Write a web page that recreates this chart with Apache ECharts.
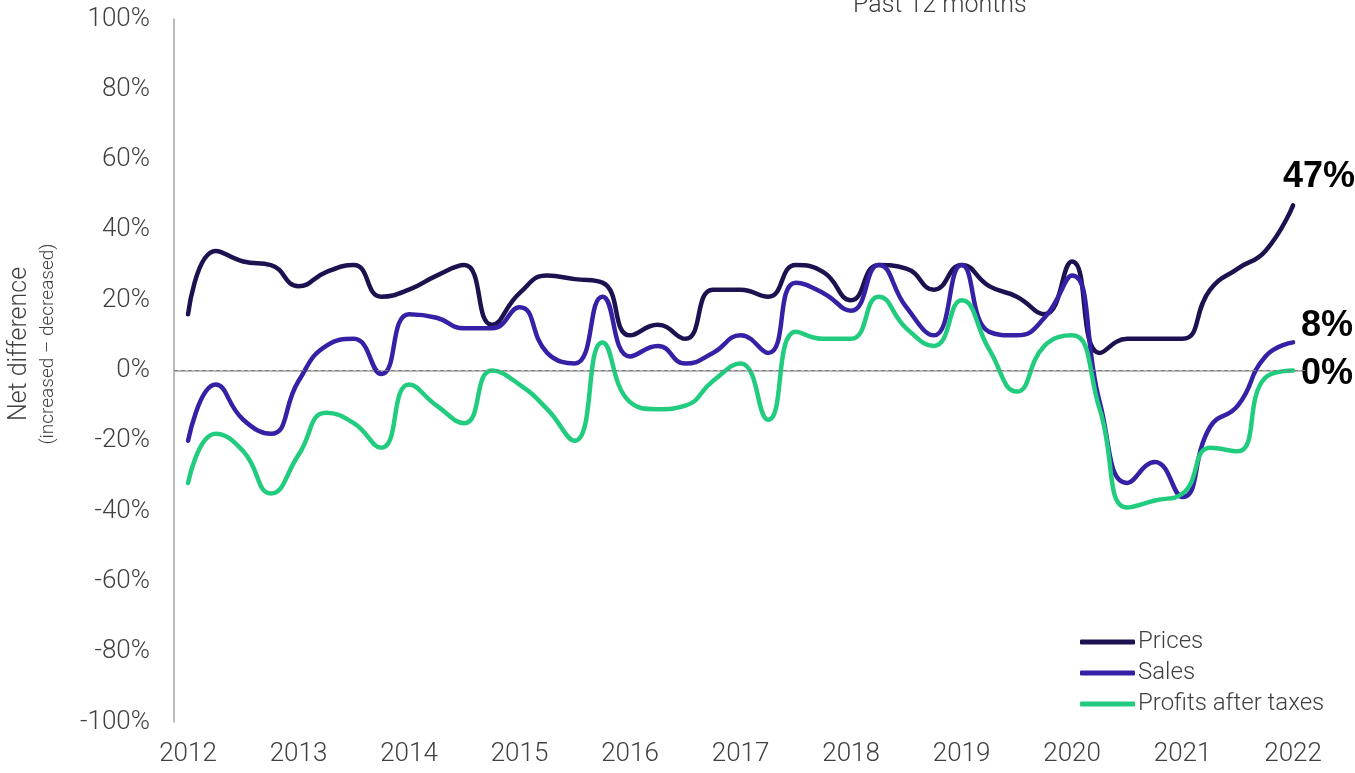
<!DOCTYPE html>
<html>
<head>
<meta charset="utf-8">
<title>Past 12 months</title>
<script src="https://cdn.jsdelivr.net/npm/echarts@6/dist/echarts.min.js"></script>
<style>
  html, body {
    margin: 0;
    padding: 0;
    background: #ffffff;
  }
  #chart {
    width: 1355px;
    height: 773px;
  }
</style>
</head>
<body>
<div id="chart"></div>
<script>
// quarterly survey, 2012 Q1 .. 2022 Q1
const quarters = [
  '2012Q1', '2012Q2', '2012Q3', '2012Q4', '2013Q1', '2013Q2', '2013Q3', '2013Q4',
  '2014Q1', '2014Q2', '2014Q3', '2014Q4', '2015Q1', '2015Q2', '2015Q3', '2015Q4',
  '2016Q1', '2016Q2', '2016Q3', '2016Q4', '2017Q1', '2017Q2', '2017Q3', '2017Q4',
  '2018Q1', '2018Q2', '2018Q3', '2018Q4', '2019Q1', '2019Q2', '2019Q3', '2019Q4',
  '2020Q1', '2020Q2', '2020Q3', '2020Q4', '2021Q1', '2021Q2', '2021Q3', '2021Q4',
  '2022Q1'
]
const prices = [
  16, 34, 31, 30, 24, 28, 30, 21, 23, 27, 30, 13, 22, 27, 26, 25,
  10, 13, 9, 23, 23, 21, 30, 28, 20, 30, 29, 23, 30, 24, 21, 16,
  31, 5, 9, 9, 9, 23, 29, 34, 47
]
const sales = [
  -20, -4, -14, -18, -3, 7, 9, -1, 16, 15, 12, 12, 18, 5, 2, 21,
  4, 7, 2, 5, 10, 5, 25, 22, 17, 30, 18, 10, 30, 11, 10, 15,
  27, -9, -32, -26, -36, -16, -10, 4, 8
]
const profits = [
  -32, -18, -23, -35, -24, -12, -15, -22, -4, -10, -15, 0, -4, -11, -20, 8,
  -9, -11, -10, -3, 2, -14, 11, 9, 9, 21, 12, 7, 20, 6, -6, 7,
  10, -11, -39, -37, -35, -22, -23, -2, 0
]
const yearTicks = [2012, 2013, 2014, 2015, 2016, 2017, 2018, 2019, 2020, 2021, 2022]

const colors = ['#1e1150', '#3521a5', '#22cc7f']
const textColor = '#404040'
const font = 'Roboto'

function toPoints (values) {
  return values.map((v, i) => {
    let q = quarters[i]
    let x = parseInt(q.slice(0, 4)) + (parseInt(q.slice(5)) - 1) / 4
    return [x, v]
  })
}

function makeSeries (name, values, color, offset) {
  return {
    name: name,
    type: 'line',
    data: toPoints(values),
    smooth: 0.5,
    showSymbol: false,
    symbol: 'none',
    lineStyle: { color: color, width: 4.5, cap: 'round', join: 'round' },
    itemStyle: { color: color },
    endLabel: {
      show: true,
      formatter: p => Math.round(p.value[1]) + '%',
      fontFamily: 'Liberation Sans',
      fontWeight: 'bold',
      fontSize: 36,
      color: '#000000',
      offset: offset
    },
    z: 3
  }
}

let chart = echarts.init(document.getElementById('chart'))
let option = {
  animation: false,
  backgroundColor: '#ffffff',
  textStyle: { fontFamily: font },
  grid: { left: 174, right: 50, top: 19, bottom: 51, containLabel: false },
  xAxis: {
    type: 'value',
    min: 2011.873,
    max: 2022.108,
    axisLine: { show: true, lineStyle: { color: '#a6a6a6', width: 1.5 } },
    axisTick: { show: false },
    splitLine: { show: false },
    axisLabel: {
      customValues: yearTicks,
      formatter: v => String(v),
      color: textColor,
      fontFamily: font,
      fontWeight: 300,
      fontSize: 26,
      margin: 19
    }
  },
  yAxis: {
    type: 'value',
    min: -100,
    max: 100,
    interval: 20,
    axisLine: { show: true, lineStyle: { color: '#a6a6a6', width: 1.5 } },
    axisTick: { show: false },
    splitLine: { show: false },
    axisLabel: {
      formatter: '{value}%',
      color: textColor,
      fontFamily: font,
      fontWeight: 300,
      fontSize: 26,
      margin: 24
    }
  },
  legend: {
    orient: 'vertical',
    left: 1075,
    top: 625,
    itemWidth: 55,
    itemHeight: 5,
    itemGap: 7,
    icon: 'roundRect',
    textStyle: {
      color: textColor,
      fontFamily: font,
      fontWeight: 300,
      fontSize: 24,
      padding: [0, 0, 0, -2]
    },
    data: ['Prices', 'Sales', 'Profits after taxes']
  },
  graphic: [
    {
      type: 'text',
      left: 853,
      top: -7,
      style: {
        text: 'Past 12 months',
        fill: textColor,
        font: '300 25px Roboto'
      }
    },
    {
      type: 'text',
      x: 7,
      y: 344,
      rotation: Math.PI / 2,
      style: {
        text: 'Net difference',
        fill: textColor,
        font: '300 25px Roboto',
        align: 'center',
        verticalAlign: 'top'
      }
    },
    {
      type: 'text',
      x: 39,
      y: 344,
      rotation: Math.PI / 2,
      style: {
        text: '(increased \u2013 decreased)',
        fill: textColor,
        font: '300 19px Roboto',
        align: 'center',
        verticalAlign: 'top'
      }
    }
  ],
  series: [
    makeSeries('Prices', prices, colors[0], [-18, -28]),
    makeSeries('Sales', sales, colors[1], [0, -16]),
    makeSeries('Profits after taxes', profits, colors[2], [0, 4]),
    {
      name: 'zero',
      type: 'line',
      data: [],
      silent: true,
      markLine: {
        silent: true,
        symbol: 'none',
        label: { show: false },
        lineStyle: { color: '#7f7f7f', type: [4, 3], width: 1 },
        data: [{ yAxis: 0 }]
      },
      z: 1
    }
  ]
}
chart.setOption(option)
window.onresize = chart.resize
</script>
</body>
</html>
